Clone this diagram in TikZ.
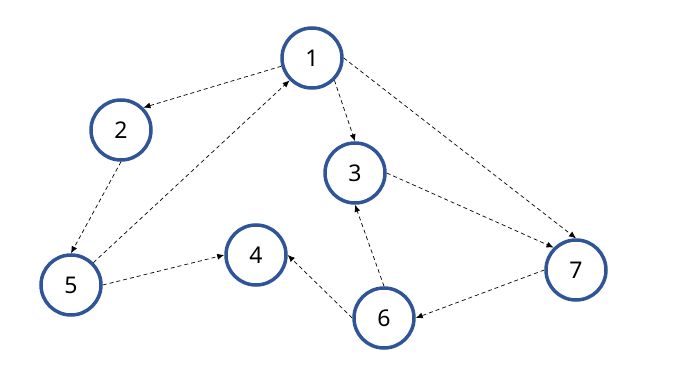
\documentclass[tikz,border=0pt]{standalone}
\usepackage{fontspec}
\setmainfont{Noto Sans}
\usetikzlibrary{arrows.meta}
\definecolor{ringblue}{HTML}{2F5597}
\begin{document}
\begin{tikzpicture}[x=1pt, y=-1pt, >={Latex[length=7pt,width=6pt]},
    vert/.style={circle, draw=ringblue, line width=3.5pt, minimum size=60pt, inner sep=0pt, font=\fontsize{23}{27}\selectfont},
    link/.style={->, dashed, dash pattern=on 4pt off 3pt, line width=0.7pt}]
    \useasboundingbox (0,0) rectangle (677,385);
    % Nodes
    \node[vert] (n1) at (312,58) {1};
    \node[vert] (n2) at (121,130) {2};
    \node[vert] (n3) at (355,173) {3};
    \node[vert] (n4) at (256,255) {4};
    \node[vert] (n5) at (71,285) {5};
    \node[vert] (n6) at (384,318) {6};
    \node[vert] (n7) at (576,270) {7};

    % Edges
    \draw[link] (n1.195) -- (n2.north east);
    \draw[link] (n1.south east) -- (n3.north);
    \draw[link] (n1.east) -- (n7.north);
    \draw[link] (n2.south) -- (n5.north);
    \draw[link] (n5.north east) -- (n1.south west);
    \draw[link] (n5.east) -- (n4.west);
    \draw[link] (n3.east) -- (n7.north west);
    \draw[link] (n7.west) -- (n6.east);
    \draw[link] (n6.north) -- (n3.south);
    \draw[link] (n6.west) -- (n4.east);
\end{tikzpicture}
\end{document}
